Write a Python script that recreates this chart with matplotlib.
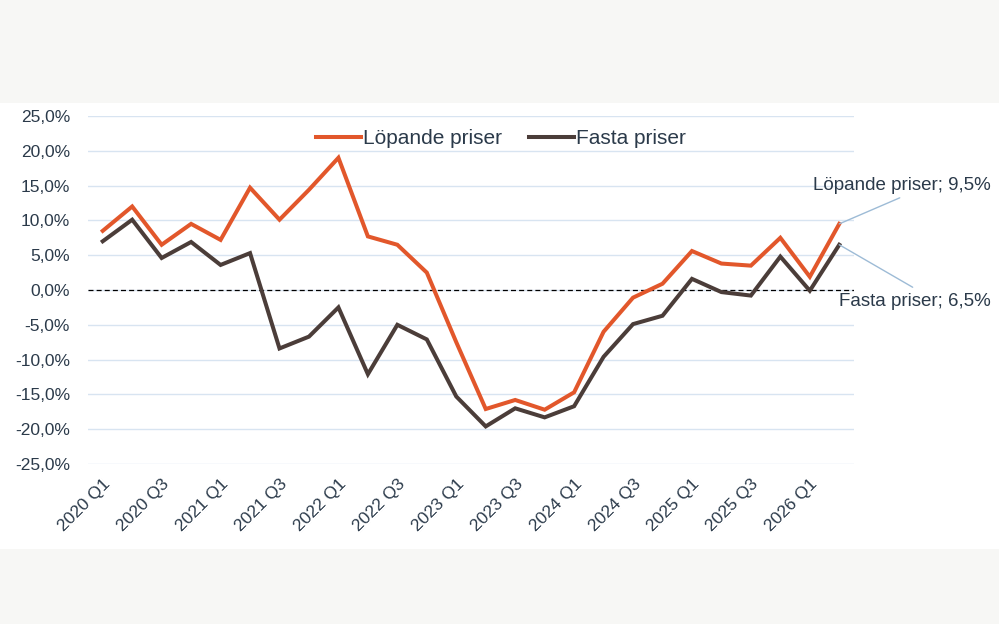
import matplotlib
matplotlib.use("Agg")
import matplotlib.pyplot as plt
from matplotlib.patches import Rectangle
from matplotlib.ticker import FuncFormatter

plt.rcParams['font.family'] = ['Liberation Sans', 'DejaVu Sans']

# quarters 2020 Q1 .. 2026 Q2
quarters = [f"{y} Q{q}" for y in range(2020, 2027) for q in range(1, 5)][:26]

lopande = [8.5, 12.0, 6.5, 9.5, 7.2, 14.7, 10.1, 14.4, 19.0, 7.7, 6.5, 2.5,
           -7.5, -17.1, -15.8, -17.2, -14.7, -6.0, -1.1, 0.9, 5.6, 3.8, 3.5, 7.5,
           1.9, 9.5]
fasta = [7.0, 10.1, 4.6, 6.9, 3.6, 5.3, -8.4, -6.7, -2.5, -12.1, -5.0, -7.1,
         -15.3, -19.6, -17.0, -18.3, -16.7, -9.6, -4.9, -3.7, 1.6, -0.3, -0.8, 4.8,
         -0.1, 6.5]

yticks = [25, 20, 15, 10, 5, 0, -5, -10, -15, -20, -25]

ORANGE = '#E2572B'
BROWN = '#4B3D39'
TEXT = '#2B3A4A'
GRID = '#D8E4F1'
LEADER = '#9DBBD6'

fig = plt.figure(figsize=(9.99, 6.24), dpi=100, facecolor='#F7F7F5')
# white panel behind the chart
fig.patches.append(Rectangle((0, 75 / 624), 1, (549 - 103) / 624, transform=fig.transFigure,
                             facecolor='white', edgecolor='none', zorder=-10))

ax = fig.add_axes([88 / 999, 1 - 464 / 624, (854 - 88) / 999, (464 - 116) / 624])
ax.set_facecolor('none')

x = list(range(len(quarters)))
ax.plot(x, lopande, color=ORANGE, lw=2.9, label='Löpande priser', zorder=3, solid_joinstyle='miter')
ax.plot(x, fasta, color=BROWN, lw=2.9, label='Fasta priser', zorder=3, solid_joinstyle='miter')
ax.axhline(0, color='black', lw=0.9, ls=(0, (4, 2.5)), zorder=2)

ax.set_xlim(-0.5, len(quarters) - 0.5)
ax.set_ylim(-25, 25)
ax.set_yticks(yticks)
ax.yaxis.set_major_formatter(FuncFormatter(lambda v, p: f"{v:.1f}%".replace('.', ',')))
ax.grid(axis='y', color=GRID, lw=1.0, zorder=1)
ax.set_axisbelow(True)

ax.set_xticks(x[::2])
ax.set_xticklabels(quarters[::2], rotation=45, ha='right', rotation_mode='anchor')

for s in ax.spines.values():
    s.set_visible(False)
ax.tick_params(axis='both', length=0, colors=TEXT, labelsize=12.5)
ax.tick_params(axis='y', pad=13)
ax.tick_params(axis='x', pad=9)

leg = ax.legend(loc='upper center', bbox_to_anchor=(0.539, 1.017), ncol=2, frameon=False,
                fontsize=15, handlelength=2.15, handletextpad=0.1, columnspacing=1.3)
for t in leg.get_texts():
    t.set_color(TEXT)

# end-point labels with leader lines
last = len(quarters) - 1
ax.annotate(f"Löpande priser; {lopande[-1]:.1f}%".replace('.', ','), xy=(last, lopande[-1]),
            xytext=(991, 438), textcoords='figure pixels', ha='right', va='center',
            fontsize=13.5, color=TEXT, annotation_clip=False,
            arrowprops=dict(arrowstyle='-', color=LEADER, lw=1.0, shrinkA=1, shrinkB=0,
                            relpos=(0.53, 0.0)))
ax.annotate(f"Fasta priser; {fasta[-1]:.1f}%".replace('.', ','), xy=(last, fasta[-1]),
            xytext=(991, 322), textcoords='figure pixels', ha='right', va='center',
            fontsize=13.5, color=TEXT, annotation_clip=False,
            arrowprops=dict(arrowstyle='-', color=LEADER, lw=1.0, shrinkA=5, shrinkB=0,
                            relpos=(0.555, 1.0)))

fig.savefig('out.png', dpi=100, facecolor=fig.get_facecolor())
